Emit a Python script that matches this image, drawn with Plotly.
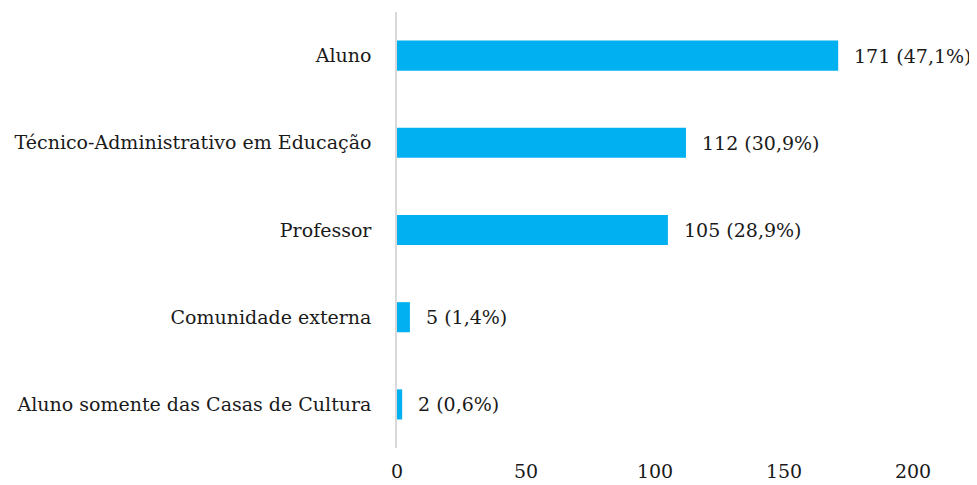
import plotly.graph_objects as go

categories = ["Aluno", "Técnico-Administrativo em Educação", "Professor",
              "Comunidade externa", "Aluno somente das Casas de Cultura"]
counts = [171, 112, 105, 5, 2]
labels = ["171 (47,1%)", "112 (30,9%)", "105 (28,9%)", "5 (1,4%)", "2 (0,6%)"]
x_ticks = [0, 50, 100, 150, 200]

FONT = "DejaVu Serif, Liberation Serif, serif"
TXT = "#1a1a1a"

fig = go.Figure(go.Bar(
    x=counts, y=categories, orientation="h",
    marker=dict(color="#00B0F0", line=dict(width=0)),
    hoverinfo="skip",
))

for c, v, t in zip(categories, counts, labels):
    fig.add_annotation(x=v, y=c, text=t, showarrow=False, xanchor="left",
                       xshift=14, font=dict(family=FONT, size=19, color=TXT))

# page body has an 8px default margin, so the figure is sized to fit the window
fig.update_layout(
    width=969, height=477,
    margin=dict(l=389, r=64, t=4, b=37),
    plot_bgcolor="white", paper_bgcolor="white",
    bargap=0.655,
    showlegend=False,
    font=dict(family=FONT, size=19, color=TXT),
    xaxis=dict(range=[0, 200], tickvals=x_ticks, showgrid=False, zeroline=False,
               showline=False, ticks="", ticklabelstandoff=10,
               tickfont=dict(size=19, color=TXT)),
    yaxis=dict(categoryorder="array", categoryarray=categories[::-1],
               showline=True, linecolor="#d9d9d9", linewidth=1.5, ticks="",
               showgrid=False, zeroline=False, ticklabelstandoff=20,
               tickfont=dict(size=19, color=TXT)),
)

fig.write_html("out.html")
